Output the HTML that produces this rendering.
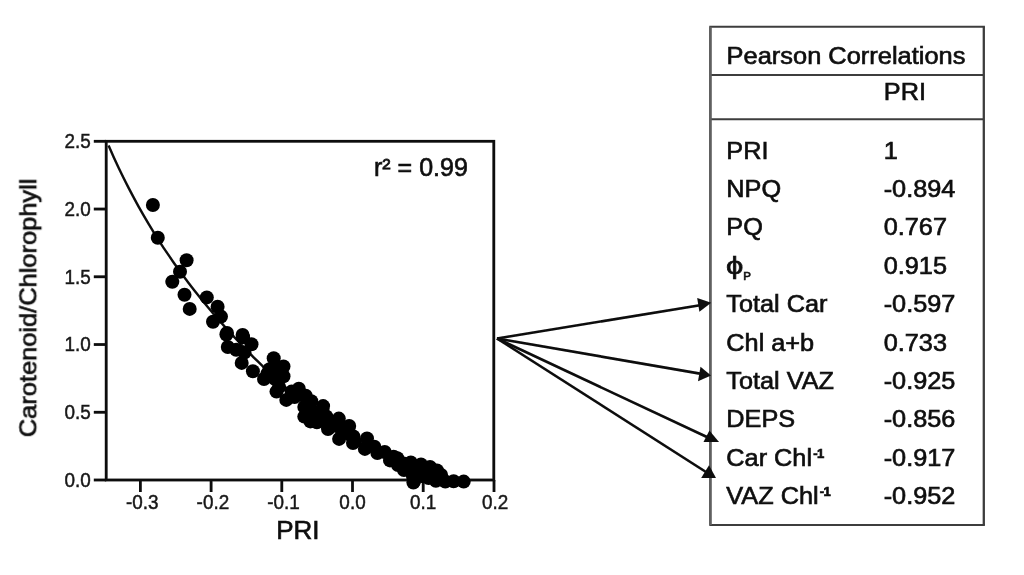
<!DOCTYPE html>
<html><head><meta charset="utf-8"><title>PRI correlations</title>
<style>
html,body{margin:0;padding:0;background:#fff;}
body{width:1024px;height:575px;overflow:hidden;}
svg{display:block;font-family:"Liberation Sans",Arial,Helvetica,sans-serif;}
.ax line,.ax rect{stroke:#0a0a0a;stroke-width:2.8;fill:none;}
.tl text{font-size:21px;fill:#1a1a1a;stroke:#1a1a1a;stroke-width:0.5;}
text.big{font-size:26px;fill:#111;stroke:#111;stroke-width:0.65;}
.tb text{font-size:24.2px;fill:#111;stroke:#111;stroke-width:0.65;}
.sup{font-size:12.5px;font-weight:bold;letter-spacing:-0.7px;}
.tb text.sub{font-size:11.5px;}
.tbl line{stroke:#3c3c3c;stroke-width:2;fill:none;}
.tbl line.v{stroke:#555;stroke-width:2.2;}
.arr line{stroke:#0a0a0a;stroke-width:2.6;}
.arr polygon{fill:#0a0a0a;}
.dots circle{fill:#050505;}
</style></head><body>
<svg width="1024" height="575" viewBox="0 0 1024 575">
<defs><filter id="soft" x="0" y="0" width="1024" height="575" filterUnits="userSpaceOnUse"><feGaussianBlur stdDeviation="0.55"/></filter></defs>
<rect width="1024" height="575" fill="#ffffff"/>
<g filter="url(#soft)">
<g class="ax">
<rect x="106.2" y="141.3" width="387.6" height="338.7"/>
<line x1="93.8" y1="141.30" x2="106.2" y2="141.30"/>
<line x1="93.8" y1="209.04" x2="106.2" y2="209.04"/>
<line x1="93.8" y1="276.78" x2="106.2" y2="276.78"/>
<line x1="93.8" y1="344.52" x2="106.2" y2="344.52"/>
<line x1="93.8" y1="412.26" x2="106.2" y2="412.26"/>
<line x1="93.8" y1="480.00" x2="106.2" y2="480.00"/>
<line x1="140.4" y1="480.0" x2="140.4" y2="492"/>
<line x1="211.1" y1="480.0" x2="211.1" y2="492"/>
<line x1="281.8" y1="480.0" x2="281.8" y2="492"/>
<line x1="352.5" y1="480.0" x2="352.5" y2="492"/>
<line x1="423.2" y1="480.0" x2="423.2" y2="492"/>
<line x1="494" y1="480.0" x2="494" y2="492"/>
</g>
<path d="M108.6,145.6 L113.6,156.9 L118.6,167.7 L123.6,178.0 L128.6,187.9 L133.6,197.4 L138.6,206.6 L143.6,215.4 L148.6,223.9 L153.6,232.2 L158.6,240.1 L163.6,247.8 L168.6,255.2 L173.6,262.5 L178.6,269.5 L183.6,276.3 L188.6,283.0 L193.6,289.5 L198.6,295.8 L203.6,302.0 L208.6,308.0 L213.6,313.9 L218.6,319.7 L223.6,325.4 L228.6,331.0 L233.6,336.4 L238.6,341.8 L243.6,347.0 L248.6,352.2 L253.6,357.3 L258.6,362.2 L263.6,367.1 L268.6,371.9 L273.6,376.6 L278.6,381.2 L283.6,385.7 L288.6,390.2 L293.6,394.5 L298.6,398.8 L303.6,402.9 L308.6,407.0 L313.6,410.9 L318.6,414.8 L323.6,418.5 L328.6,422.2 L333.6,425.7 L338.6,429.1 L343.6,432.4 L348.6,435.7 L353.6,438.7 L358.6,441.7 L363.6,444.6 L368.6,447.4 L373.6,450.0 L378.6,452.5 L383.6,454.9 L388.6,457.2 L393.6,459.4 L398.6,461.5 L403.6,463.5 L408.6,465.4 L413.6,467.2 L418.6,468.9 L423.6,470.5 L428.6,472.0 L433.6,473.5 L438.6,474.9 L443.6,476.2 L448.6,477.5 L453.6,478.8 L458.6,480.1" fill="none" stroke="#0a0a0a" stroke-width="2.4"/>
<g class="dots">
<circle cx="152.9" cy="205.0" r="7.0"/>
<circle cx="157.8" cy="237.8" r="7.0"/>
<circle cx="186.6" cy="260.2" r="7.0"/>
<circle cx="180" cy="271.7" r="7.0"/>
<circle cx="172.3" cy="281.8" r="7.0"/>
<circle cx="184.5" cy="294.7" r="7.0"/>
<circle cx="189.7" cy="308.9" r="7.0"/>
<circle cx="206.8" cy="297.4" r="7.0"/>
<circle cx="217.6" cy="306.8" r="7.0"/>
<circle cx="221" cy="316.6" r="7.0"/>
<circle cx="213" cy="321.8" r="7.0"/>
<circle cx="227" cy="333" r="7.0"/>
<circle cx="242.6" cy="335" r="7.0"/>
<circle cx="226.4" cy="334.5" r="7.0"/>
<circle cx="243.1" cy="337.3" r="7.0"/>
<circle cx="251.5" cy="344.3" r="7.0"/>
<circle cx="227.8" cy="347" r="7.0"/>
<circle cx="236.2" cy="349.8" r="7.0"/>
<circle cx="244.5" cy="352.6" r="7.0"/>
<circle cx="241.7" cy="362.9" r="7.0"/>
<circle cx="252.9" cy="371.2" r="7.0"/>
<circle cx="273.7" cy="358.2" r="7.0"/>
<circle cx="283.5" cy="366.5" r="7.0"/>
<circle cx="269.6" cy="369.3" r="7.0"/>
<circle cx="264" cy="379" r="7.0"/>
<circle cx="275.1" cy="379" r="7.0"/>
<circle cx="283.5" cy="376.3" r="7.0"/>
<circle cx="276.5" cy="391.6" r="7.0"/>
<circle cx="286.3" cy="399.9" r="7.0"/>
<circle cx="298.8" cy="388.8" r="7.0"/>
<circle cx="294.6" cy="397.1" r="7.0"/>
<circle cx="305.7" cy="395.7" r="7.0"/>
<circle cx="311.3" cy="401.3" r="7.0"/>
<circle cx="304.3" cy="406.9" r="7.0"/>
<circle cx="304.3" cy="416.6" r="7.0"/>
<circle cx="314.1" cy="412.4" r="7.0"/>
<circle cx="322.4" cy="409.6" r="7.0"/>
<circle cx="326.6" cy="419.4" r="7.0"/>
<circle cx="316.9" cy="422.2" r="7.0"/>
<circle cx="328" cy="429.1" r="7.0"/>
<circle cx="337.7" cy="420.8" r="7.0"/>
<circle cx="341.9" cy="429.1" r="7.0"/>
<circle cx="350.3" cy="434.7" r="7.0"/>
<circle cx="353" cy="443" r="7.0"/>
<circle cx="339.1" cy="438.9" r="7.0"/>
<circle cx="323.1" cy="406.1" r="7.0"/>
<circle cx="326.3" cy="416.5" r="7.0"/>
<circle cx="330.4" cy="427" r="7.0"/>
<circle cx="338.8" cy="418.6" r="7.0"/>
<circle cx="341.9" cy="431.2" r="7.0"/>
<circle cx="349.2" cy="425.9" r="7.0"/>
<circle cx="353.4" cy="436.4" r="7.0"/>
<circle cx="354.5" cy="441.6" r="7.0"/>
<circle cx="367" cy="438.5" r="7.0"/>
<circle cx="364.9" cy="448.9" r="7.0"/>
<circle cx="374.3" cy="446.8" r="7.0"/>
<circle cx="377.4" cy="453.1" r="7.0"/>
<circle cx="384.7" cy="452" r="7.0"/>
<circle cx="390" cy="460.4" r="7.0"/>
<circle cx="397.3" cy="458.3" r="7.0"/>
<circle cx="403.5" cy="463.5" r="7.0"/>
<circle cx="410.8" cy="462.5" r="7.0"/>
<circle cx="408.7" cy="469.8" r="7.0"/>
<circle cx="417.1" cy="467.7" r="7.0"/>
<circle cx="414" cy="481.3" r="7.0"/>
<circle cx="412.9" cy="476" r="7.0"/>
<circle cx="424.4" cy="471.9" r="7.0"/>
<circle cx="432.8" cy="469.8" r="7.0"/>
<circle cx="428.6" cy="478.1" r="7.0"/>
<circle cx="435.9" cy="480.7" r="7.0"/>
<circle cx="441.1" cy="475" r="7.0"/>
<circle cx="445.3" cy="481.5" r="7.0"/>
<circle cx="453.6" cy="481.3" r="7.0"/>
<circle cx="463.7" cy="481.6" r="7.0"/>
<circle cx="279.1" cy="387" r="7.0"/>
<circle cx="291.6" cy="391.6" r="7.0"/>
<circle cx="267.4" cy="373.6" r="7.0"/>
<circle cx="308.9" cy="407.3" r="7.0"/>
<circle cx="318.2" cy="415.1" r="7.0"/>
<circle cx="310.4" cy="421.4" r="7.0"/>
<circle cx="327.6" cy="421.4" r="7.0"/>
<circle cx="333.9" cy="424.5" r="7.0"/>
<circle cx="276.5" cy="366.8" r="7.0"/>
<circle cx="393.6" cy="456.7" r="7.0"/>
<circle cx="421" cy="464.5" r="7.0"/>
<circle cx="430" cy="467" r="7.0"/>
<circle cx="437" cy="470.5" r="7.0"/>
<circle cx="398" cy="465" r="7.0"/>
<circle cx="404" cy="470" r="7.0"/>
<circle cx="413.4" cy="482.5" r="7.0"/>
<circle cx="421.5" cy="476" r="7.0"/>
</g>
<g class="tl">
<text transform="translate(90.7,148.10) scale(0.9,1)" text-anchor="end">2.5</text>
<text transform="translate(90.7,215.84) scale(0.9,1)" text-anchor="end">2.0</text>
<text transform="translate(90.7,283.58) scale(0.9,1)" text-anchor="end">1.5</text>
<text transform="translate(90.7,351.32) scale(0.9,1)" text-anchor="end">1.0</text>
<text transform="translate(90.7,419.06) scale(0.9,1)" text-anchor="end">0.5</text>
<text transform="translate(90.7,486.80) scale(0.9,1)" text-anchor="end">0.0</text>
<text transform="translate(142.2,509.0) scale(0.9,1)" text-anchor="middle">-0.3</text>
<text transform="translate(212.9,509.0) scale(0.9,1)" text-anchor="middle">-0.2</text>
<text transform="translate(283.6,509.0) scale(0.9,1)" text-anchor="middle">-0.1</text>
<text transform="translate(352.5,509.0) scale(0.9,1)" text-anchor="middle">0.0</text>
<text transform="translate(423.2,509.0) scale(0.9,1)" text-anchor="middle">0.1</text>
<text transform="translate(495.2,509.0) scale(0.9,1)" text-anchor="middle">0.2</text>
</g>
<text class="big" x="297.8" y="539.0" text-anchor="middle">PRI</text>
<text class="big" style="font-size:24px" transform="translate(36.3,437.2) rotate(-90)" textLength="258.6" lengthAdjust="spacingAndGlyphs">Carotenoid/Chlorophyll</text>
<text class="big" style="font-size:25px" x="374" y="176.2">r² = 0.99</text>
<g class="tbl">
<line x1="709.3" y1="26.8" x2="984.9" y2="26.8"/>
<line x1="709.3" y1="524.9" x2="984.9" y2="524.9"/>
<line x1="710.4" y1="75.1" x2="983.8" y2="75.1"/>
<line x1="710.4" y1="119.3" x2="983.8" y2="119.3"/>
<line class="v" x1="710.4" y1="26.8" x2="710.4" y2="524.9" style="stroke:#606060;stroke-width:2.8"/>
<line class="v" x1="983.8" y1="26.8" x2="983.8" y2="524.9" style="stroke:#3c3c3c;stroke-width:2.3"/>
</g>
<g class="arr">
<line x1="497" y1="338.5" x2="700" y2="305.2"/>
<polygon points="711.2,302.8 697.2,298 699.4,311.8"/>
<line x1="497" y1="338.5" x2="700" y2="373.6"/>
<polygon points="711,375.5 700.5,366.8 698,381.2"/>
<line x1="497" y1="338.5" x2="708" y2="437.5"/>
<polygon points="709.4,430.5 703.5,442 719,442"/>
<line x1="497" y1="338.5" x2="706" y2="472"/>
<polygon points="709,465.3 701.2,478 716,478"/>
</g>
<g class="tb">
<text x="726.6" y="63.9" style="font-size:24.2px" textLength="238.8" lengthAdjust="spacingAndGlyphs">Pearson Correlations</text>
<text transform="translate(883.8,100.4) scale(1.045,1)">PRI</text>
<text transform="translate(726.3,158.5) scale(1.045,1)">PRI</text>
<text transform="translate(883.7,158.5) scale(1.045,1)">1</text>
<text transform="translate(726.3,196.9) scale(1.045,1)">NPQ</text>
<text transform="translate(883.7,196.9) scale(1.045,1)">-0.894</text>
<text transform="translate(726.3,235.3) scale(1.045,1)">PQ</text>
<text transform="translate(883.7,235.3) scale(1.045,1)">0.767</text>
<text transform="translate(726.0,273.8) scale(1.28,1)">ϕ</text>
<text class="sub" x="743.2" y="279.5">P</text>
<text transform="translate(883.7,273.8) scale(1.045,1)">0.915</text>
<text transform="translate(726.3,312.2) scale(1.045,1)">Total Car</text>
<text transform="translate(883.7,312.2) scale(1.045,1)">-0.597</text>
<text transform="translate(726.3,350.6) scale(1.045,1)">Chl a+b</text>
<text transform="translate(883.7,350.6) scale(1.045,1)">0.733</text>
<text transform="translate(726.3,389.0) scale(1.045,1)">Total VAZ</text>
<text transform="translate(883.7,389.0) scale(1.045,1)">-0.925</text>
<text transform="translate(726.3,427.4) scale(1.045,1)">DEPS</text>
<text transform="translate(883.7,427.4) scale(1.045,1)">-0.856</text>
<text transform="translate(726.3,465.9) scale(1.045,1)">Car Chl<tspan class="sup" dx="1.2" dy="-8">-1</tspan></text>
<text transform="translate(883.7,465.9) scale(1.045,1)">-0.917</text>
<text transform="translate(726.3,504.3) scale(1.045,1)">VAZ Chl<tspan class="sup" dx="1.2" dy="-8">-1</tspan></text>
<text transform="translate(883.7,504.3) scale(1.045,1)">-0.952</text>
</g>
</g>
</svg>
</body></html>
